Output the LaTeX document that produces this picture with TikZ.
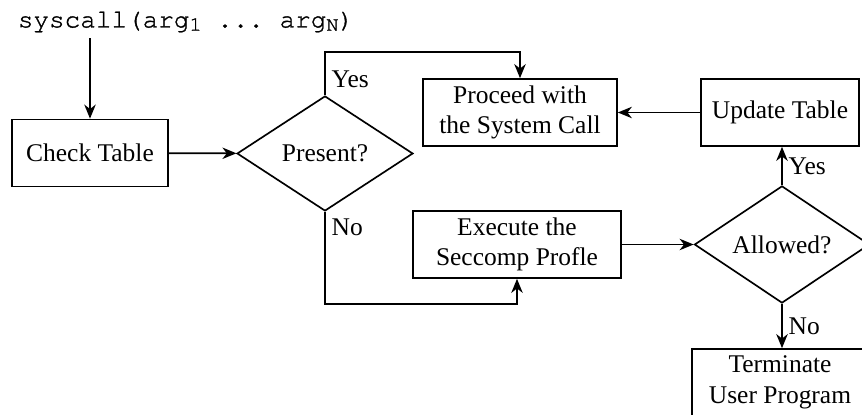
\documentclass[tikz,border=0pt]{standalone}
\usepackage{fontspec}
\setmainfont{Liberation Serif}
\newfontfamily\callfont{texgyrecursor-regular.otf}[FakeBold=1.2]
\usetikzlibrary{shapes.geometric,arrows.meta}

\tikzset{
    >={Stealth[length=8pt,width=6.5pt,inset=2.5pt]},
    flowbox/.style={draw, line width=0.95pt, align=center, inner sep=2pt,
        minimum height=1.34cm},
    decision/.style={draw, line width=0.95pt, diamond, inner sep=0pt,
        minimum width=3.52cm, minimum height=2.3cm},
    branch/.style={font=\fontsize{14.5}{17}\selectfont}
}

\begin{document}
\begin{tikzpicture}[x=0.02cm, y=-0.02cm, font=\fontsize{14.5}{17.5}\selectfont]
        \useasboundingbox (0,0) rectangle (862,415);

        \node (sys) at (186,22) {\frenchspacing\fontsize{14.8}{17}\callfont syscall(arg\raisebox{-0.3ex}{\fontsize{11.5}{12}\callfont 1} ... arg\raisebox{-0.3ex}{\fontsize{11.5}{12}\callfont N})};
        \node[flowbox, minimum width=3.12cm] (check) at (90,153) {Check Table};
        \node[decision] (present) at (325,153.5) {Present?};
        \node[flowbox, minimum width=3.88cm] (proceed) at (520,112.5) {Proceed with\\the System Call};
        \node[flowbox, minimum width=3.16cm] (update) at (780,112.5) {Update Table};
        \node[flowbox, minimum width=4.16cm] (execute) at (517,244.5) {Execute the\\Seccomp Profle};
        \node[decision, minimum width=3.5cm] (allowed) at (782,244.5) {Allowed?};
        \node[flowbox, minimum width=3.52cm] (term) at (780,382.5) {Terminate\\User Program};

        \draw[->, line width=0.95pt] (sys.south -| check.north) -- (check.north);
        \draw[->, line width=0.95pt] (check) -- (present);
        \draw[->, line width=0.95pt] (present.north) -- node[branch, right, pos=0.37] (yesA) {Yes}
            ++(0,-43) -| (proceed.north);
        \draw[->, line width=0.95pt] (update) -- (proceed);
        \draw[->, line width=0.95pt] (present.south) -- node[branch, right, pos=0.17] (noA) {No}
            ++(0,92) -| (execute.south);
        \draw[->, line width=0.95pt] (execute) -- (allowed);
        \draw[->, line width=0.95pt] (allowed.north) -- node[branch, right] (yesB) {Yes} (update.south -| allowed.north);
        \draw[->, line width=0.95pt] (allowed.south) -- node[branch, right] (noB) {No} (term.north -| allowed.south);
    \end{tikzpicture}
\end{document}
